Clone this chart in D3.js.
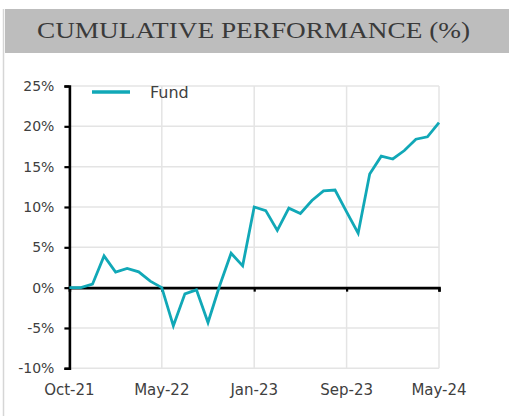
<!DOCTYPE html>
<html>
<head>
<meta charset="utf-8">
<script src="https://cdn.jsdelivr.net/npm/d3@7"></script>
<style>
    html, body { margin: 0; padding: 0; background: #ffffff; }
    svg { display: block; }
</style>
</head>
<body>
<script>
// cumulative performance of the fund, one point per month (inception first)
const fundValues = [
    0, 0, 0.43, 3.94, 1.92, 2.37, 1.96, 0.8, 0,
    -4.73, -0.77, -0.27, -4.32, 0.2, 4.27, 2.7, 10.0,
    9.55, 7.1, 9.85, 9.2, 10.8, 12.0, 12.1, 9.4,
    6.75, 14.1, 16.3, 15.95, 17.0, 18.4, 18.7, 20.45,
];
const xTickLabels = ["Oct-21", "May-22", "Jan-23", "Sep-23", "May-24"];
const yTicks = [-10, -5, 0, 5, 10, 15, 20, 25];
const seriesName = "Fund";
const chartTitle = "CUMULATIVE PERFORMANCE (%)";

const width = 509, height = 416;
const lineColor = "#11a8b7";
const textColor = "#404040";
const tickEvery = (fundValues.length - 1) / (xTickLabels.length - 1);

const svg = d3.select("body").append("svg")
    .attr("width", width)
    .attr("height", height);

// bordure gauche + bandeau titre
svg.append("line")
    .attr("x1", 3.5).attr("x2", 3.5)
    .attr("y1", 9).attr("y2", height)
    .attr("stroke", "#d6d6d6")
    .attr("stroke-width", 1.5);

svg.append("rect")
    .attr("x", 5).attr("y", 9)
    .attr("width", width - 5).attr("height", 44)
    .attr("fill", "#bdbdbd");

svg.append("text")
    .attr("x", 37).attr("y", 38)
    .attr("textLength", 433)
    .attr("lengthAdjust", "spacingAndGlyphs")
    .attr("fill", "#3a3a3a")
    .style("font-family", "'Liberation Serif', 'DejaVu Serif', serif")
    .style("font-size", "24px")
    .text(chartTitle);

const x = d3.scaleLinear()
    .domain([0, fundValues.length - 1])
    .range([69.4, 439]);

const y = d3.scaleLinear()
    .domain([-10, 25])
    .range([368.3, 86]);

const xTickValues = xTickLabels.map((d, i) => i * tickEvery);

// grille
const grid = svg.append("g")
    .attr("stroke", "#e4e4e4")
    .attr("stroke-width", 1.5);

grid.selectAll("line.h")
    .data(yTicks)
    .join("line")
    .attr("class", "h")
    .attr("x1", x.range()[0]).attr("x2", x.range()[1])
    .attr("y1", (d) => y(d)).attr("y2", (d) => y(d));

grid.selectAll("line.v")
    .data(xTickValues.slice(1))
    .join("line")
    .attr("class", "v")
    .attr("x1", (d) => x(d)).attr("x2", (d) => x(d))
    .attr("y1", y.range()[1]).attr("y2", y.range()[0]);

// axe x sur 0%
const xAxis = svg.append("g")
    .attr("transform", `translate(0,${y(0)})`)
    .call(d3.axisBottom(x).tickValues(xTickValues.slice(1)).tickSize(4).tickFormat(""));
xAxis.select(".domain").attr("stroke", "#000").attr("stroke-width", 2.6);
xAxis.selectAll(".tick line").attr("stroke", "#000").attr("stroke-width", 2.2);

// libellés de l'axe x en bas
svg.append("g")
    .selectAll("text")
    .data(xTickValues)
    .join("text")
    .attr("x", (d) => x(d))
    .attr("y", 395)
    .attr("text-anchor", "middle")
    .attr("fill", textColor)
    .style("font-family", "'DejaVu Sans', sans-serif")
    .style("font-size", "15px")
    .text((d, i) => xTickLabels[i]);

// axe y
const yAxis = svg.append("g")
    .attr("transform", `translate(${x.range()[0]},0)`)
    .call(d3.axisLeft(y).tickValues(yTicks).tickSize(5).tickSizeOuter(5).tickPadding(10)
        .tickFormat((d) => d + "%"));
yAxis.select(".domain").attr("stroke", "#000").attr("stroke-width", 2.6);
yAxis.selectAll(".tick line").attr("stroke", "#000").attr("stroke-width", 2.2);
yAxis.selectAll(".tick text")
    .attr("fill", textColor)
    .style("font-family", "'DejaVu Sans', sans-serif")
    .style("font-size", "14px");

// série
const line = d3.line()
    .x((d, i) => x(i))
    .y((d) => y(d));

svg.append("path")
    .datum(fundValues)
    .attr("d", line)
    .attr("fill", "none")
    .attr("stroke", lineColor)
    .attr("stroke-width", 2.8)
    .attr("stroke-linejoin", "miter");

// légende
svg.append("line")
    .attr("x1", 92).attr("x2", 130)
    .attr("y1", 92).attr("y2", 92)
    .attr("stroke", lineColor)
    .attr("stroke-width", 3.5);

svg.append("text")
    .attr("x", 150).attr("y", 98)
    .attr("fill", textColor)
    .style("font-family", "'DejaVu Sans', sans-serif")
    .style("font-size", "16px")
    .text(seriesName);
</script>
</body>
</html>
